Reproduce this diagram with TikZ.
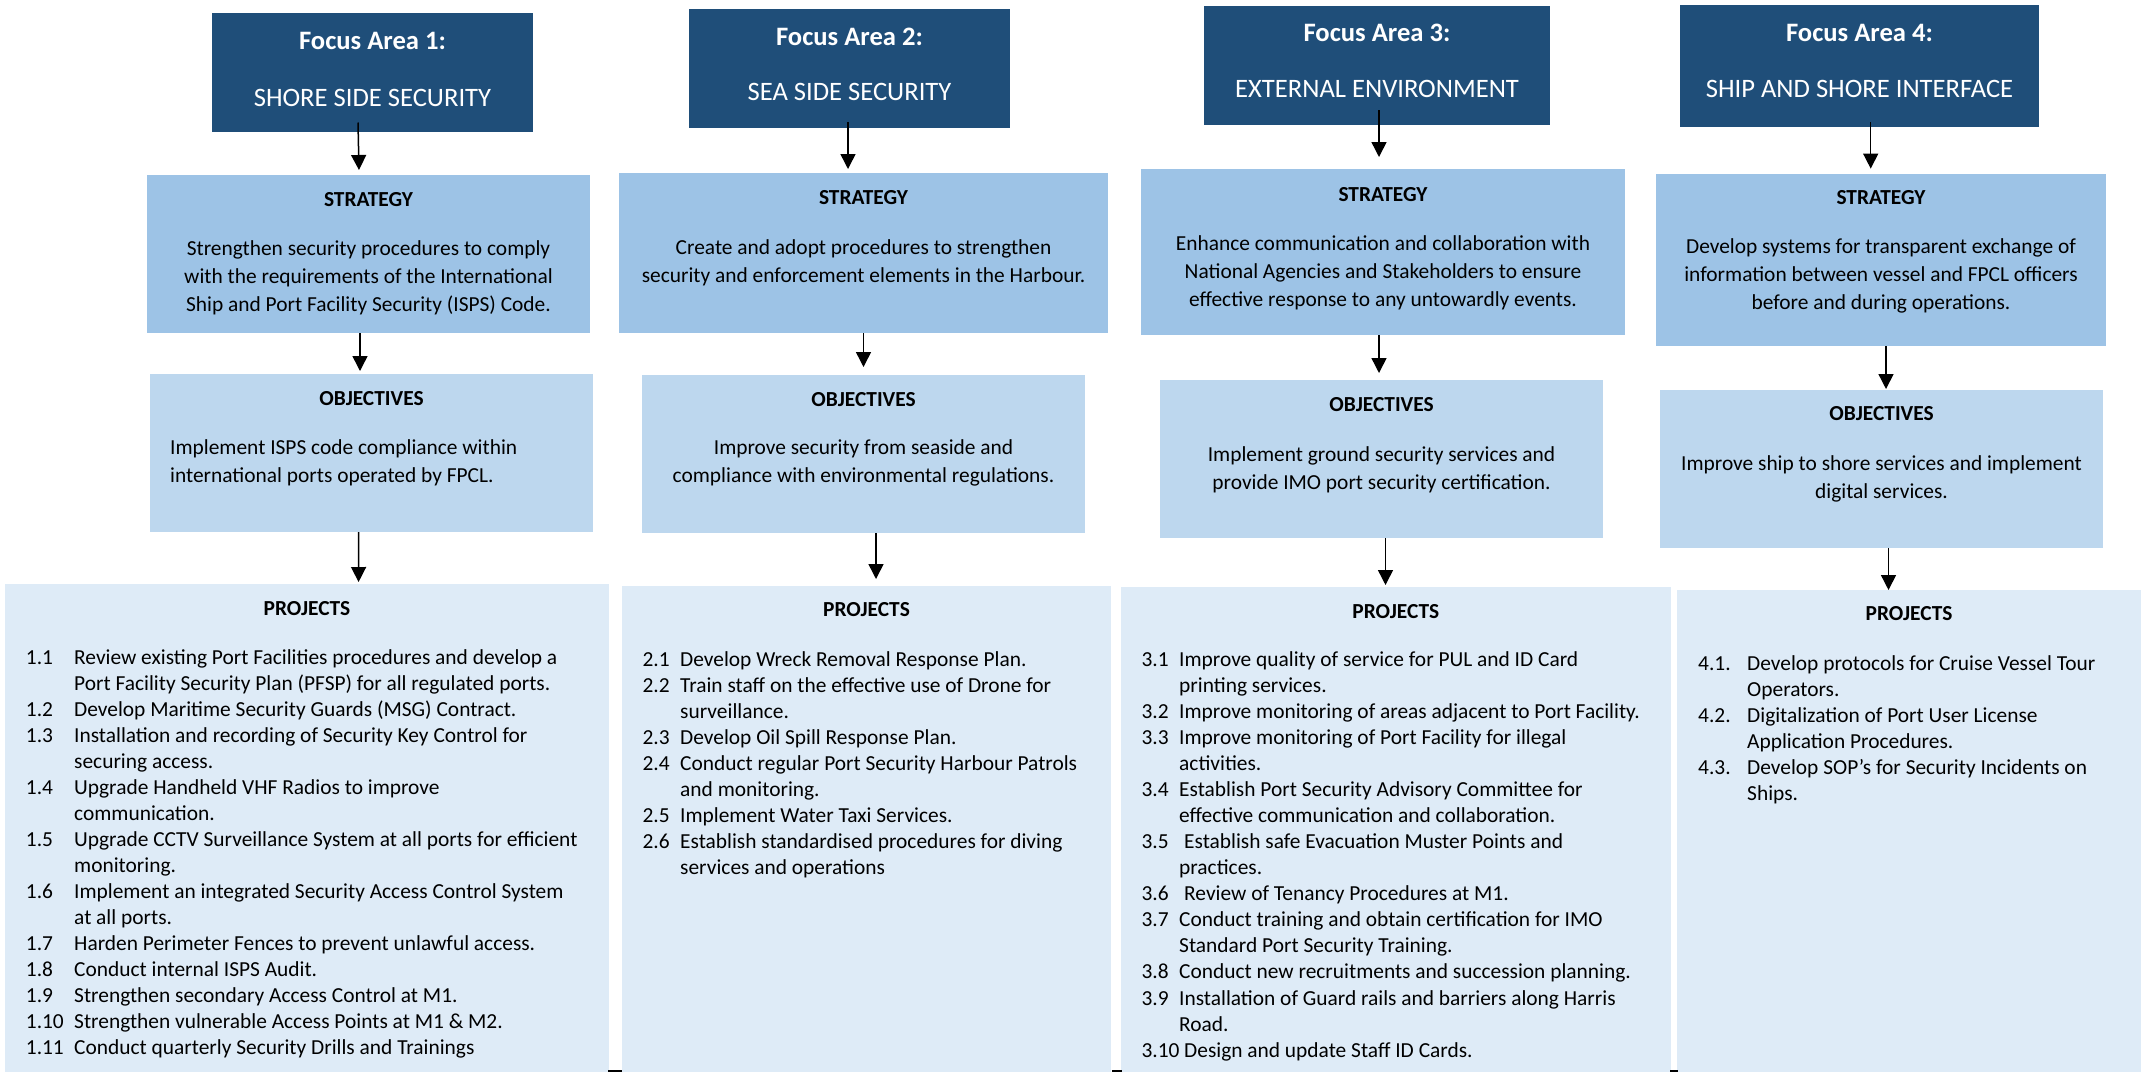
\documentclass[tikz,border=0pt]{standalone}
\usepackage{fontspec}
\setmainfont{Carlito}
\usetikzlibrary{arrows.meta}
\definecolor{focusblue}{HTML}{1F4E79}
\definecolor{stratblue}{HTML}{9DC3E6}
\definecolor{objblue}{HTML}{BDD7EE}
\definecolor{projblue}{HTML}{DEEBF7}
\newlength{\hangw}
\newcommand{\pitem}[2]{\par\noindent\hangindent=\hangw\hangafter=1\makebox[\hangw][l]{#1}#2\par}
\newcommand{\pitemw}[3]{\par\noindent\hangindent=\hangw\hangafter=1\makebox[#1][l]{#2}#3\par}
\newcommand{\lines}[1]{\begin{tabular}[t]{@{}c@{}}#1\end{tabular}}
\newcommand{\llines}[1]{\begin{tabular}[t]{@{}l@{}}#1\end{tabular}}
\newcommand{\plist}[2]{\parbox[t]{600pt}{\setlength{\parskip}{0pt}\raggedright\setlength{\hangw}{#1}#2}}
\begin{document}
\begin{tikzpicture}[x=1pt,y=-1pt,
  box/.style={rectangle,draw=none,inner sep=0pt,outer sep=0pt,anchor=north west},
  focusbox/.style={box,fill=focusblue},
  stratbox/.style={box,fill=stratblue},
  objbox/.style={box,fill=objblue},
  projbox/.style={box,fill=projblue},
  ftitle/.style={anchor=base,inner sep=0pt,text=white,font=\fontsize{26.6}{32}\selectfont\bfseries},
  fname/.style={anchor=base,inner sep=0pt,text=white,font=\fontsize{26.6}{32}\selectfont},
  hd/.style={anchor=base,inner sep=0pt,font=\fontsize{21.4}{28.2}\selectfont\bfseries},
  body/.style={anchor=base,inner sep=0pt,font=\fontsize{21.4}{28.2}\selectfont},
  plistnode/.style={anchor=base west,inner sep=0pt,font=\fontsize{21.4}{26.04}\selectfont},
  arr/.style={line width=1.5pt,-{Triangle[length=15pt,width=15pt]}}]
\useasboundingbox (0,0) rectangle (2141,1072);
\fill[white] (0,0) rectangle (2141,1072);

% ---------- boxes ----------
\node[focusbox,minimum width=321pt,minimum height=119pt] (f1) at (212,13) {};
\node[stratbox,minimum width=443pt,minimum height=158pt] (s1) at (147,175) {};
\node[objbox,minimum width=443pt,minimum height=158pt] (o1) at (150,374) {};
\node[projbox,minimum width=604pt,minimum height=488pt] (p1) at (5,584) {};

\node[focusbox,minimum width=321pt,minimum height=118.5pt] (f2) at (689,9) {};
\node[stratbox,minimum width=489pt,minimum height=160pt] (s2) at (619,173) {};
\node[objbox,minimum width=443pt,minimum height=158pt] (o2) at (642,375) {};
\node[projbox,minimum width=489pt,minimum height=486pt] (p2) at (622,586) {};

\node[focusbox,minimum width=346pt,minimum height=119pt] (f3) at (1204,6) {};
\node[stratbox,minimum width=484pt,minimum height=166pt] (s3) at (1141,169) {};
\node[objbox,minimum width=443pt,minimum height=158pt] (o3) at (1160,380) {};
\node[projbox,minimum width=549.5pt,minimum height=485pt] (p3) at (1121,587) {};

\node[focusbox,minimum width=359pt,minimum height=122pt] (f4) at (1680,5) {};
\node[stratbox,minimum width=450pt,minimum height=172pt] (s4) at (1656,174) {};
\node[objbox,minimum width=443pt,minimum height=158pt] (o4) at (1660,390) {};
\node[projbox,minimum width=464pt,minimum height=482pt] (p4) at (1677,590) {};

% small dark marks at the bottom edge
\fill[black] (608,1070) rectangle (622,1072);
\fill[black] (1112,1070) rectangle (1122,1072);
\fill[black] (1670,1070) rectangle (1678,1072);

% ---------- focus titles ----------
\node[ftitle] (f1a) at (372.5,49.5) {Focus Area 1:};
\node[fname]  (f1b) at (372.5,106) {SHORE SIDE SECURITY};
\node[ftitle] (f2a) at (849.5,45.5) {Focus Area 2:};
\node[fname]  (f2b) at (849.5,100.5) {SEA SIDE SECURITY};
\node[ftitle] (f3a) at (1377,41.5) {Focus Area 3:};
\node[fname]  (f3b) at (1377,97.5) {EXTERNAL ENVIRONMENT};
\node[ftitle] (f4a) at (1859.5,41.5) {Focus Area 4:};
\node[fname]  (f4b) at (1859.5,97.5) {SHIP AND SHORE INTERFACE};

% ---------- strategy ----------
\node[hd] (s1h) at (368.5,206) {STRATEGY};
\node[body] (s1t) at (368.5,255.5) {\lines{Strengthen security procedures to comply\\with the requirements of the International\\Ship and Port Facility Security (ISPS) Code.}};
\node[hd] (s2h) at (863.5,204.5) {STRATEGY};
\node[body] (s2t) at (863.5,254) {\lines{Create and adopt procedures to strengthen\\security and enforcement elements in the Harbour.}};
\node[hd] (s3h) at (1383,201) {STRATEGY};
\node[body] (s3t) at (1383,250) {\lines{Enhance communication and collaboration with\\National Agencies and Stakeholders to ensure\\effective response to any untowardly events.}};
\node[hd] (s4h) at (1881,204) {STRATEGY};
\node[body] (s4t) at (1881,253.5) {\lines{Develop systems for transparent exchange of\\information between vessel and FPCL officers\\before and during operations.}};

% ---------- objectives ----------
\node[hd] (o1h) at (371.5,405) {OBJECTIVES};
\node[body,anchor=base west] (o1t) at (170,454.5) {\llines{Implement ISPS code compliance within\\international ports operated by FPCL.}};
\node[hd] (o2h) at (863.5,406) {OBJECTIVES};
\node[body] (o2t) at (863.5,454.5) {\lines{Improve security from seaside and\\compliance with environmental regulations.}};
\node[hd] (o3h) at (1381.5,411.5) {OBJECTIVES};
\node[body] (o3t) at (1381.5,461) {\lines{Implement ground security services and\\provide IMO port security certification.}};
\node[hd] (o4h) at (1881.5,420.5) {OBJECTIVES};
\node[body] (o4t) at (1881.5,470) {\lines{Improve ship to shore services and implement\\digital services.}};

% ---------- projects ----------
\node[hd] (p1h) at (307,615) {PROJECTS};
\node[plistnode] (p1t) at (25.7,664) {\plist{48.3pt}{%
\pitem{1.1}{Review existing Port Facilities procedures and develop a\newline Port Facility Security Plan (PFSP) for all regulated ports.}
\pitem{1.2}{Develop Maritime Security Guards (MSG) Contract.}
\pitem{1.3}{Installation and recording of Security Key Control for\newline securing access.}
\pitem{1.4}{Upgrade Handheld VHF Radios to improve\newline communication.}
\pitem{1.5}{Upgrade CCTV Surveillance System at all ports for efficient\newline monitoring.}
\pitem{1.6}{Implement an integrated Security Access Control System\newline at all ports.}
\pitem{1.7}{Harden Perimeter Fences to prevent unlawful access.}
\pitem{1.8}{Conduct internal ISPS Audit.}
\pitem{1.9}{Strengthen secondary Access Control at M1.}
\pitem{1.10}{Strengthen vulnerable Access Points at M1 \& M2.}
\pitem{1.11}{Conduct quarterly Security Drills and Trainings}}};

\node[hd] (p2h) at (866.5,616) {PROJECTS};
\node[plistnode] (p2t) at (642.4,666) {\plist{37.6pt}{%
\pitem{2.1}{Develop Wreck Removal Response Plan.}
\pitem{2.2}{Train staff on the effective use of Drone for\newline surveillance.}
\pitem{2.3}{Develop Oil Spill Response Plan.}
\pitem{2.4}{Conduct regular Port Security Harbour Patrols\newline and monitoring.}
\pitem{2.5}{Implement Water Taxi Services.}
\pitem{2.6}{Establish standardised procedures for diving\newline services and operations}}};

\node[hd] (p3h) at (1395.75,618.5) {PROJECTS};
\node[plistnode] (p3t) at (1141.4,666.5) {\plist{37.6pt}{%
\pitem{3.1}{Improve quality of service for PUL and ID Card\newline printing services.}
\pitem{3.2}{Improve monitoring of areas adjacent to Port Facility.}
\pitem{3.3}{Improve monitoring of Port Facility for illegal\newline activities.}
\pitem{3.4}{Establish Port Security Advisory Committee for\newline effective communication and collaboration.}
\pitem{3.5}{\hspace{5pt}Establish safe Evacuation Muster Points and\newline practices.}
\pitem{3.6}{\hspace{5pt}Review of Tenancy Procedures at M1.}
\pitem{3.7}{Conduct training and obtain certification for IMO\newline Standard Port Security Training.}
\pitem{3.8}{Conduct new recruitments and succession planning.}
\pitem{3.9}{Installation of Guard rails and barriers along Harris\newline Road.}
\pitemw{42.6pt}{3.10}{Design and update Staff ID Cards.}}};

\node[hd] (p4h) at (1909,620) {PROJECTS};
\node[plistnode] (p4t) at (1698,670) {\plist{49pt}{%
\pitem{4.1.}{Develop protocols for Cruise Vessel Tour\newline Operators.}
\pitem{4.2.}{Digitalization of Port User License\newline Application Procedures.}
\pitem{4.3.}{Develop SOP’s for Security Incidents on\newline Ships.}}};

% ---------- connectors ----------
\draw[arr] ([xshift=-14.5pt,yshift=9.5pt]f1.south) -- ([xshift=-9.5pt,yshift=5pt]s1.north);
\draw[arr] ([xshift=-8.5pt]s1.south) -- ([xshift=-11.5pt,yshift=3pt]o1.north);
\draw[arr] ([xshift=-13pt]o1.south) -- ([xshift=51.6pt,yshift=2pt]p1.north);

\draw[arr] ([xshift=-1.5pt,yshift=5.5pt]f2.south) -- ([xshift=-15.5pt,yshift=4pt]s2.north);
\draw[arr] (s2.south) -- ([yshift=8pt]o2.north);
\draw[arr] ([xshift=12.5pt]o2.south) -- ([xshift=9.5pt,yshift=7pt]p2.north);

\draw[arr] ([xshift=2pt,yshift=15pt]f3.south) -- ([xshift=-4pt,yshift=12pt]s3.north);
\draw[arr] ([xshift=-4pt]s3.south) -- ([xshift=-2.5pt,yshift=7pt]o3.north);
\draw[arr] ([xshift=4pt]o3.south) -- ([xshift=-10.25pt,yshift=2pt]p3.north);

\draw[arr] ([xshift=11.2pt,yshift=5pt]f4.south) -- ([xshift=-10.3pt,yshift=5.4pt]s4.north);
\draw[arr] ([xshift=5pt]s4.south) -- ([xshift=4.5pt,yshift=1pt]o4.north);
\draw[arr] ([xshift=7pt]o4.south) -- ([xshift=-20.5pt]p4.north);
\end{tikzpicture}
\end{document}
